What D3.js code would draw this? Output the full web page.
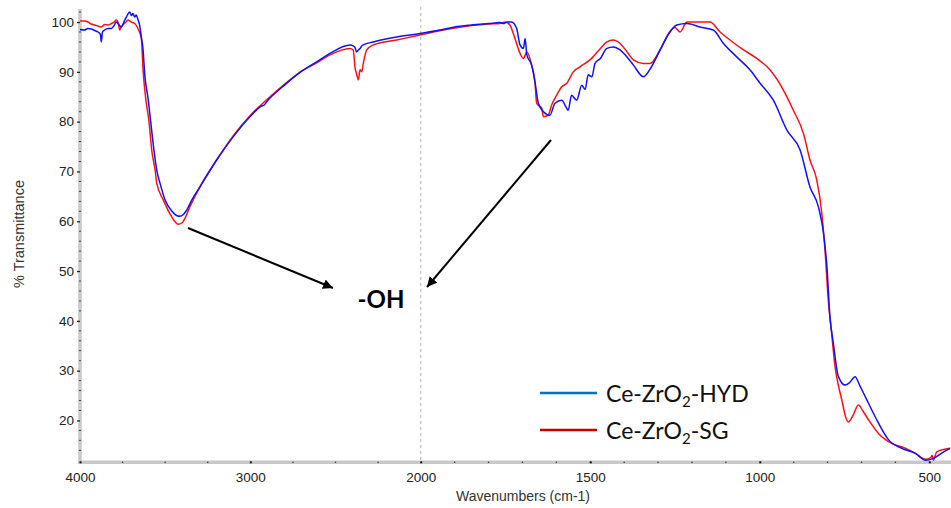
<!DOCTYPE html>
<html>
<head>
<meta charset="utf-8">
<script src="https://cdn.jsdelivr.net/npm/d3@7"></script>
<style>
  body { margin: 0; background: #fff; }
  svg text { font-family: "Liberation Sans", Arial, sans-serif; }
</style>
</head>
<body>
<script>
// FTIR spectra
var hydWn = [4000, 3975, 3953, 3934, 3914, 3894, 3880, 3875, 3868, 3855, 3836, 3816, 3800, 3787, 3775, 3758, 3740, 3728, 3708, 3698, 3689, 3679, 3670, 3660, 3650, 3640, 3630, 3620, 3599, 3585, 3566, 3548, 3530, 3501, 3460, 3430, 3413, 3395, 3378, 3340, 3296, 3198, 3100, 3002, 2930, 2920, 2904, 2807, 2709, 2611, 2533, 2415, 2396, 2386, 2376, 2366, 2356, 2346, 2337, 2278, 2141, 2004, 1943, 1900, 1850, 1800, 1766, 1756, 1745, 1732, 1717, 1707, 1697, 1692, 1687, 1673, 1663, 1653, 1638, 1619, 1604, 1584, 1572, 1565, 1555, 1540, 1525, 1515, 1506, 1495, 1486, 1470, 1451, 1432, 1412, 1388, 1373, 1343, 1324, 1304, 1274, 1245, 1215, 1176, 1137, 1107, 1068, 1029, 999, 960, 920, 881, 852, 827, 812, 802, 793, 783, 768, 748, 735, 719, 705, 689, 660, 620, 581, 541, 511, 488, 460, 439];
var hydT = [98.5, 98.4, 98.7, 98.6, 98.3, 98.0, 97.5, 96.0, 98.0, 98.4, 98.7, 98.7, 99.3, 100.0, 99.6, 99.0, 100.2, 101.0, 102.0, 101.3, 101.7, 101.0, 101.4, 100.5, 99.4, 97.0, 94.5, 89.5, 84.3, 80.0, 74.3, 70.0, 67.6, 64.3, 62.0, 61.1, 61.0, 61.3, 62.0, 64.5, 66.9, 72.3, 77.0, 81.0, 83.2, 83.3, 84.0, 87.1, 89.9, 92.0, 93.7, 95.4, 95.2, 94.9, 94.0, 94.4, 94.7, 95.2, 95.4, 96.0, 97.0, 97.7, 98.4, 99.0, 99.4, 99.7, 99.9, 99.7, 100.0, 100.0, 98.7, 95.4, 94.7, 96.7, 93.4, 91.4, 88.0, 83.7, 82.0, 81.3, 83.7, 84.3, 83.0, 82.3, 85.3, 84.3, 87.3, 86.5, 89.4, 89.0, 91.7, 92.7, 94.7, 95.0, 94.4, 92.7, 91.4, 89.0, 90.5, 93.0, 97.0, 99.4, 99.7, 99.0, 98.4, 95.7, 93.0, 90.4, 87.7, 84.3, 78.3, 74.3, 66.9, 62.9, 57.6, 50.9, 40.8, 35.5, 28.8, 27.1, 27.6, 28.8, 27.0, 24.8, 20.8, 16.1, 14.4, 13.4, 12.0, 12.4, 13.6, 14.4];

var sgWn = [4000, 3975, 3953, 3934, 3914, 3894, 3875, 3855, 3836, 3816, 3800, 3787, 3775, 3767, 3758, 3748, 3730, 3718, 3699, 3679, 3660, 3640, 3629, 3613, 3595, 3579, 3558, 3550, 3511, 3472, 3440, 3425, 3400, 3390, 3354, 3296, 3198, 3100, 3002, 2904, 2807, 2709, 2611, 2533, 2415, 2396, 2386, 2376, 2366, 2356, 2346, 2337, 2317, 2278, 2141, 2004, 1963, 1900, 1850, 1800, 1766, 1750, 1737, 1722, 1707, 1697, 1687, 1673, 1663, 1658, 1643, 1638, 1624, 1614, 1599, 1584, 1569, 1550, 1530, 1501, 1470, 1451, 1432, 1412, 1388, 1373, 1343, 1324, 1294, 1264, 1250, 1235, 1215, 1176, 1147, 1117, 1088, 1048, 1009, 970, 930, 901, 871, 852, 832, 817, 807, 798, 788, 778, 768, 758, 748, 739, 725, 709, 695, 679, 650, 611, 570, 541, 511, 495, 492, 488, 478, 439];
var sgT = [100.2, 100.2, 100.0, 99.6, 99.4, 99.2, 99.0, 99.5, 99.4, 99.7, 100.0, 100.4, 99.8, 98.4, 99.0, 99.4, 100.0, 100.4, 100.0, 99.7, 98.7, 96.7, 90.0, 84.3, 80.0, 74.3, 70.0, 67.7, 64.3, 61.5, 59.8, 59.4, 59.7, 60.2, 63.0, 66.9, 72.3, 77.2, 81.2, 84.4, 87.3, 89.9, 91.8, 93.4, 94.7, 94.4, 91.0, 89.5, 88.4, 90.4, 90.0, 91.7, 94.4, 95.4, 96.4, 97.4, 98.0, 98.8, 99.3, 99.6, 99.7, 100.0, 99.4, 96.7, 93.7, 92.7, 94.0, 91.4, 88.0, 83.7, 82.7, 81.0, 81.3, 83.3, 85.3, 87.0, 87.7, 90.0, 91.0, 92.4, 94.7, 96.0, 96.4, 95.7, 93.7, 92.4, 91.7, 91.7, 94.4, 98.2, 98.9, 98.0, 100.0, 100.0, 100.0, 98.0, 96.4, 94.4, 92.7, 90.4, 86.3, 82.3, 77.6, 72.3, 68.3, 61.6, 53.6, 44.2, 37.5, 30.8, 27.0, 24.1, 21.0, 19.7, 21.0, 23.1, 21.8, 20.1, 17.4, 15.4, 14.4, 13.4, 12.2, 12.6, 13.0, 12.0, 13.7, 14.4];

var yTicks = [20, 30, 40, 50, 60, 70, 80, 90, 100];
var xTicks = [4000, 3000, 2000, 1500, 1000, 500];
var legendNames = [['Ce-ZrO', '2', '-HYD'], ['Ce-ZrO', '2', '-SG']];

var width = 951, height = 508;
var svg = d3.select('body').append('svg')
  .attr('width', width)
  .attr('height', height);

// OMNIC style: scale changes at 2000 cm-1
var x = d3.scaleLinear().domain([4000, 2000, 436]).range([80, 420.7, 951]);
var y = d3.scaleLinear().domain([11.6, 103]).range([462.3, 7.1]);

// dashed line where the scale breaks
svg.append('line')
  .attr('x1', x(2000)).attr('x2', x(2000))
  .attr('y1', y(103)).attr('y2', y(11.6))
  .attr('stroke', '#bdbdbd')
  .attr('stroke-width', 1.2)
  .attr('stroke-dasharray', '3,3');

// axis bands
svg.append('line')
  .attr('x1', 80).attr('x2', 80).attr('y1', 9).attr('y2', 463)
  .attr('stroke', '#c8c8c8').attr('stroke-width', 3.5);
svg.append('line')
  .attr('x1', 78).attr('x2', width).attr('y1', 462.3).attr('y2', 462.3)
  .attr('stroke', '#c8c8c8').attr('stroke-width', 3.5);

// y axis
var yAxis = svg.append('g')
  .attr('transform', 'translate(80,0)')
  .call(d3.axisLeft(y).tickValues(yTicks).tickSize(3).tickPadding(3));
yAxis.select('.domain').remove();
yAxis.selectAll('line').attr('stroke', '#222').attr('stroke-width', 1.3);
yAxis.selectAll('text').attr('fill', '#222').style('font-size', '13.5px');

var yMinor = d3.range(14, 103, 2).filter(function(v) { return v % 10 !== 0; });
svg.selectAll('.yminor').data(yMinor).enter().append('line')
  .attr('x1', 79).attr('x2', 81)
  .attr('y1', function(d) { return y(d); })
  .attr('y2', function(d) { return y(d); })
  .attr('stroke', '#444').attr('stroke-width', 1);

// x axis
var xAxis = svg.append('g')
  .attr('transform', 'translate(0,462.3)')
  .call(d3.axisBottom(x).tickValues(xTicks).tickSize(2).tickPadding(8).tickFormat(d3.format('d')));
xAxis.select('.domain').remove();
xAxis.selectAll('line').attr('y1', -1).attr('y2', 1).attr('stroke', '#111').attr('stroke-width', 2);
xAxis.selectAll('text').attr('fill', '#222').style('font-size', '13.5px');

var xMinor = d3.range(3750, 2000, -250).filter(function(v) { return v !== 3000; })
  .concat(d3.range(1900, 436, -100).filter(function(v) { return v % 500 !== 0; }));
svg.selectAll('.xminor').data(xMinor).enter().append('circle')
  .attr('cx', function(d) { return x(d); })
  .attr('cy', 462.3)
  .attr('r', 0.8)
  .attr('fill', '#333');

// axis titles
svg.append('text')
  .attr('x', 523).attr('y', 501)
  .attr('text-anchor', 'middle')
  .attr('fill', '#333')
  .style('font-size', '14px')
  .text('Wavenumbers (cm-1)');
svg.append('text')
  .attr('transform', 'translate(24,234) rotate(-90)')
  .attr('text-anchor', 'middle')
  .attr('fill', '#333')
  .style('font-size', '14.5px')
  .text('% Transmittance');

// spectra
var line = d3.line()
  .x(function(d) { return x(d[0]); })
  .y(function(d) { return y(d[1]); })
  .curve(d3.curveMonotoneX);

svg.append('path')
  .datum(d3.zip(sgWn, sgT))
  .attr('d', line)
  .attr('fill', 'none')
  .attr('stroke', '#ff1010')
  .attr('stroke-width', 1.5);

svg.append('path')
  .datum(d3.zip(hydWn, hydT))
  .attr('d', line)
  .attr('fill', 'none')
  .attr('stroke', '#1010ff')
  .attr('stroke-width', 1.5);

// annotation arrows
svg.append('defs').append('marker')
  .attr('id', 'head')
  .attr('viewBox', '0 0 10 10')
  .attr('refX', 10).attr('refY', 5)
  .attr('markerWidth', 5).attr('markerHeight', 5)
  .attr('orient', 'auto')
  .append('path')
  .attr('d', 'M0,0 L10,5 L0,10 Z')
  .attr('fill', '#000');

svg.append('line')
  .attr('x1', 188).attr('y1', 228).attr('x2', 333).attr('y2', 288)
  .attr('stroke', '#000').attr('stroke-width', 2)
  .attr('marker-end', 'url(#head)');
svg.append('line')
  .attr('x1', 551).attr('y1', 140).attr('x2', 427).attr('y2', 287)
  .attr('stroke', '#000').attr('stroke-width', 2)
  .attr('marker-end', 'url(#head)');

svg.append('text')
  .attr('x', 381).attr('y', 308)
  .attr('text-anchor', 'middle')
  .style('font-family', 'Lato, "Open Sans", sans-serif')
  .style('font-weight', 'bold')
  .style('font-size', '24px')
  .text('-OH');

// legend
var legendColors = ['#0070c0', '#c00000'];
var legendY = [393, 430];
legendNames.forEach(function(parts, i) {
  svg.append('line')
    .attr('x1', 540).attr('x2', 597)
    .attr('y1', legendY[i]).attr('y2', legendY[i])
    .attr('stroke', legendColors[i]).attr('stroke-width', 2.5);
  var t = svg.append('text')
    .attr('x', 606).attr('y', legendY[i] + 9)
    .style('font-family', 'Lato, "Open Sans", sans-serif')
    .style('font-size', '23px')
    .attr('fill', '#111');
  t.append('tspan').text(parts[0]);
  t.append('tspan').attr('dy', 5).style('font-size', '15px').text(parts[1]);
  t.append('tspan').attr('dy', -5).text(parts[2]);
});
</script>
</body>
</html>
